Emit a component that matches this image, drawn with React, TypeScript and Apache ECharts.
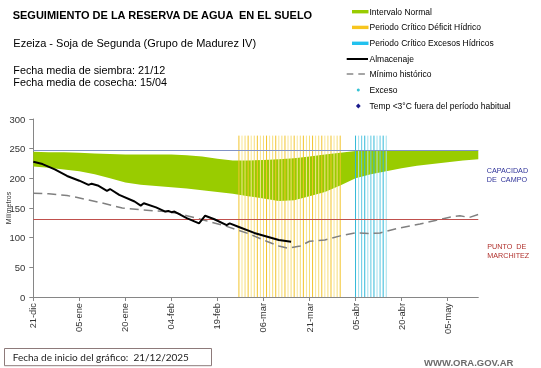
import React, { useEffect, useRef } from 'react';
import * as echarts from 'echarts';

// ---- Axis ----
const tickDays = [0, 15, 30, 45, 60, 75, 90, 105, 120, 135];
const tickLabels = ['21-dic', '05-ene', '20-ene', '04-feb', '19-feb', '06-mar', '21-mar', '05-abr', '20-abr', '05-may'];
const lastDay = 145;
const yTicks = [0, 50, 100, 150, 200, 250, 300];
const yAxisTitle = 'Milímetros';

// ---- Intervalo normal (band) ----
const bandDays = [0, 5, 10, 15, 20, 25, 30, 35, 40, 45, 50, 55, 60, 65, 70, 75, 80, 85, 90, 95, 100, 105, 110, 115, 120, 125, 130, 135, 140, 145];
const bandLower = [220, 218, 215, 212, 207, 200, 193, 189, 187, 185, 183, 180, 177, 174, 170, 166, 162, 163, 170, 177, 188, 200, 207, 212, 217, 221, 224, 227, 230, 232];
const bandUpper = [245, 244, 244, 243, 242, 241, 240, 240, 240, 240, 239, 237, 233, 230, 230, 231, 232, 234, 237, 240, 243, 246, 247, 247, 247, 247, 247, 247, 247, 247];

// ---- Almacenaje ----
const storageDays = [0, 3, 7, 11, 15, 18, 19, 21, 24, 25, 28, 33, 35, 36, 40, 43, 44, 45, 46, 50, 54, 56, 59, 63, 64, 67, 72, 76, 80, 84];
const storageValues = [228, 224, 215, 204, 196, 189, 191, 188, 179, 182, 172, 161, 154, 158, 151, 144, 145, 143, 144, 133, 124, 137, 131, 121, 124, 118, 108, 102, 96, 93];

// ---- Mínimo histórico ----
const minDays = [0, 5, 11, 14, 22, 29, 35, 43, 47, 50, 56, 63, 70, 76, 80, 83, 87, 90, 95, 100, 105, 110, 113, 119, 126, 131, 136, 139, 142, 145];
const minValues = [175, 174, 171, 168, 159, 150, 147, 144, 141, 137, 129, 119, 107, 94, 86, 82, 86, 94, 96, 103, 108, 107, 108, 116, 123, 129, 135, 137, 134, 139];

// ---- Periodos críticos ----
const deficitDays = [67, 68, 69, 70, 71, 72, 73, 74, 75, 76, 77, 78, 79, 80, 81, 82, 83, 84, 85, 86, 87, 88, 89, 90, 91, 92, 93, 94, 95, 96, 97, 98, 99, 100];
const excessDays = [105, 106, 107, 108, 109, 110, 111, 112, 113, 114, 115];
const periodTop = 272;

// ---- Reference levels ----
const fieldCapacity = 247;
const wiltingPoint = 131;

const FONT = '"Liberation Sans", Arial, sans-serif';

export default function App() {
  const ref = useRef<HTMLDivElement>(null);

  useEffect(() => {
    if (!ref.current) return;
    const chart = echarts.init(ref.current, undefined, { renderer: 'svg' });

    const vLine = (colors: string[]) => (params: any, api: any) => {
      const d = api.value(0);
      const p0 = api.coord([d, 0]);
      const p1 = api.coord([d, periodTop]);
      return {
        type: 'line',
        shape: { x1: p0[0], y1: p0[1], x2: p1[0], y2: p1[1] },
        style: { stroke: colors[params.dataIndex % colors.length], lineWidth: 1 },
      };
    };

    const txt = (text: string, x: number, y: number, font: string, fill = '#000', extra: any = {}) => ({
      type: 'text',
      silent: true,
      style: { text, x, y, font, fill, verticalAlign: 'middle', ...extra },
    });

    const option: any = {
      animation: false,
      textStyle: { fontFamily: FONT },
      grid: { left: 33.3, right: 62.7, top: 119, bottom: 71, containLabel: false, outerBoundsMode: 'none' },
      xAxis: {
        type: 'value',
        min: 0,
        max: lastDay,
        interval: 15,
        axisLine: { show: true, lineStyle: { color: '#868686', width: 1 } },
        axisTick: { show: true, length: 4, lineStyle: { color: '#868686' }, customValues: tickDays },
        axisLabel: {
          customValues: tickDays,
          formatter: (v: number) => {
            const i = tickDays.indexOf(v);
            return i >= 0 ? tickLabels[i] : '';
          },
          rotate: 90,
          margin: 6,
          fontSize: 9.3,
          color: '#333',
          fontFamily: FONT,
        },
        splitLine: { show: false },
      },
      yAxis: {
        type: 'value',
        min: 0,
        max: 300,
        interval: 50,
        axisLine: { show: true, lineStyle: { color: '#868686', width: 1 } },
        axisTick: { show: true, length: 4, lineStyle: { color: '#868686' } },
        axisLabel: {
          fontSize: 9.5,
          color: '#333',
          margin: 8,
          fontFamily: FONT,
          formatter: (v: number) => (yTicks.includes(v) ? String(v) : ''),
        },
        splitLine: { show: false },
      },
      series: [
        {
          name: 'Intervalo Normal',
          type: 'custom',
          silent: true,
          z: 1,
          data: bandDays.map((d, i) => [d, bandLower[i], bandUpper[i]]),
          encode: { x: 0, y: [1, 2] },
          renderItem: (params: any, api: any) => {
            if (params.dataIndex !== 0) return null;
            const pts: number[][] = [];
            bandDays.forEach((d, i) => pts.push(api.coord([d, bandUpper[i]])));
            for (let i = bandDays.length - 1; i >= 0; i--) pts.push(api.coord([bandDays[i], bandLower[i]]));
            return { type: 'polygon', shape: { points: pts }, style: { fill: '#99cc00' } };
          },
        },
        {
          name: 'Periodo Crítico Déficit Hídrico',
          type: 'custom',
          silent: true,
          z: 2,
          data: deficitDays.map((d) => [d, periodTop]),
          encode: { x: 0, y: 1 },
          renderItem: vLine(['#f2c42c', '#f8e592', '#f6dc74']),
        },
        {
          name: 'Periodo Crítico Excesos Hídricos',
          type: 'custom',
          silent: true,
          z: 2,
          data: excessDays.map((d) => [d, periodTop]),
          encode: { x: 0, y: 1 },
          renderItem: vLine(['#30b8d8', '#9fe0ee', '#5cc8e2']),
        },
        {
          name: 'refs',
          type: 'line',
          data: [],
          z: 3,
          silent: true,
          markLine: {
            silent: true,
            symbol: ['none', 'none'],
            label: { show: false },
            animation: false,
            data: [
              { yAxis: fieldCapacity, lineStyle: { color: '#8193c6', width: 1, type: 'solid' } },
              { yAxis: wiltingPoint, lineStyle: { color: '#c0504d', width: 1, type: 'solid' } },
            ],
          },
        },
        {
          name: 'Mínimo histórico',
          type: 'line',
          z: 4,
          silent: true,
          showSymbol: false,
          symbol: 'none',
          data: minDays.map((d, i) => [d, minValues[i]]),
          lineStyle: { color: '#808080', width: 1.5, type: [9, 5] },
        },
        {
          name: 'Almacenaje',
          type: 'line',
          z: 5,
          silent: true,
          showSymbol: false,
          symbol: 'none',
          data: storageDays.map((d, i) => [d, storageValues[i]]),
          lineStyle: { color: '#000', width: 2 },
        },
      ],
      graphic: [
        txt('SEGUIMIENTO DE LA RESERVA DE AGUA  EN EL SUELO', 12.7, 15, `bold 11px ${FONT}`),
        txt('Ezeiza - Soja de Segunda (Grupo de Madurez IV)', 13.3, 43.3, `11px ${FONT}`),
        txt('Fecha media de siembra: 21/12', 13.3, 70.2, `10.8px ${FONT}`),
        txt('Fecha media de cosecha: 15/04', 13.3, 81.6, `10.8px ${FONT}`),
        {
          type: 'text',
          silent: true,
          x: 8,
          y: 208,
          rotation: Math.PI / 2,
          style: { text: yAxisTitle, font: `7px ${FONT}`, fill: '#333', align: 'center', verticalAlign: 'middle' },
        },
        // legend
        { type: 'rect', silent: true, shape: { x: 352, y: 10, width: 16.5, height: 3.4 }, style: { fill: '#99cc00' } },
        { type: 'rect', silent: true, shape: { x: 352, y: 25.7, width: 16.5, height: 3.4 }, style: { fill: '#f7c51e' } },
        { type: 'rect', silent: true, shape: { x: 352, y: 41.6, width: 16.5, height: 3.4 }, style: { fill: '#22c1ee' } },
        { type: 'line', silent: true, shape: { x1: 346.7, y1: 59, x2: 368, y2: 59 }, style: { stroke: '#000', lineWidth: 2 } },
        { type: 'line', silent: true, shape: { x1: 346.7, y1: 74, x2: 367, y2: 74 }, style: { stroke: '#888', lineWidth: 1.5, lineDash: [6.6, 5] } },
        { type: 'circle', silent: true, shape: { cx: 358.3, cy: 90, r: 1.5 }, style: { fill: '#36c3d4' } },
        { type: 'polygon', silent: true, shape: { points: [[358.3, 103.6], [360.7, 106], [358.3, 108.4], [355.9, 106]] }, style: { fill: '#1a1a8c' } },
        txt('Intervalo Normal', 369.5, 11.7, `8.5px ${FONT}`),
        txt('Periodo Crítico Déficit Hídrico', 369.5, 27.3, `8.5px ${FONT}`),
        txt('Periodo Crítico Excesos Hídricos', 369.5, 43.3, `8.5px ${FONT}`),
        txt('Almacenaje', 369.5, 59, `8.5px ${FONT}`),
        txt('Mínimo histórico', 369.5, 74, `8.5px ${FONT}`),
        txt('Exceso', 369.5, 90, `8.5px ${FONT}`),
        txt('Temp <3°C fuera del período habitual', 369.5, 106, `8.5px ${FONT}`),
        // right side labels
        txt('CAPACIDAD', 486.7, 170, `7.2px ${FONT}`, '#2f3399'),
        txt('DE  CAMPO', 486.7, 179.3, `7.2px ${FONT}`, '#2f3399'),
        txt('PUNTO  DE', 487.3, 246.7, `7.2px ${FONT}`, '#b0302c'),
        txt('MARCHITEZ', 487.3, 255.3, `7.2px ${FONT}`, '#b0302c'),
        // bottom
        { type: 'rect', silent: true, shape: { x: 4.5, y: 348.5, width: 207, height: 17.2 }, style: { fill: '#fff', stroke: '#8d7a7a', lineWidth: 1 } },
        txt('Fecha de inicio del gráfico:  21/12/2025', 12.7, 357.3, `10px Lato, "Noto Sans", sans-serif`, '#222'),
        txt('WWW.ORA.GOV.AR', 424, 362, `bold 9.5px ${FONT}`, '#6b6b6b'),
      ],
    };

    chart.setOption(option);
    return () => chart.dispose();
  }, []);

  return <div ref={ref} style={{ position: 'fixed', left: 0, top: 0, width: 541, height: 368 }} />;
}
